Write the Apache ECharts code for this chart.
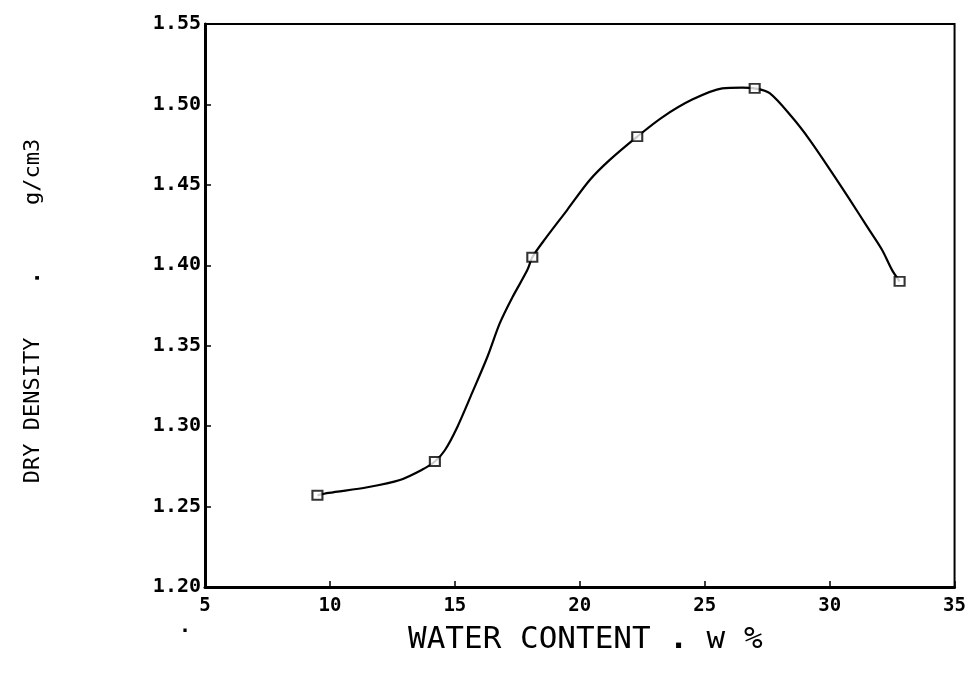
<!DOCTYPE html>
<html>
<head>
<meta charset="utf-8">
<script src="https://cdn.jsdelivr.net/npm/echarts@6/dist/echarts.min.js"></script>
<style>html,body{margin:0;padding:0;background:#fff;}#c{width:969px;height:676px;}</style>
</head>
<body>
<div id="c"></div>
<script>
// Measured points (water content %, dry density g/cm3)
var waterContent = [9.5, 14.2, 18.1, 22.3, 27.0, 32.8];
var dryDensity   = [1.257, 1.278, 1.405, 1.480, 1.510, 1.390];
// Fitted curve
var curveX = [9.5, 9.95, 11.5, 12.8, 13.7, 14.2, 14.6, 15.1, 15.7, 16.3, 16.8, 17.3, 17.9, 18.1, 18.5, 19.5, 20.4, 21.2, 22.3, 23.3, 24.5, 25.7, 26.5, 27.0, 27.6, 28.5, 29.2, 30.1, 30.8, 31.5, 32.1, 32.5, 32.8];
var curveY = [1.257, 1.2585, 1.262, 1.2665, 1.273, 1.278, 1.285, 1.2995, 1.321, 1.343, 1.364, 1.380, 1.397, 1.405, 1.414, 1.4345, 1.453, 1.4655, 1.480, 1.492, 1.503, 1.510, 1.5105, 1.510, 1.507, 1.492, 1.478, 1.4575, 1.441, 1.424, 1.4095, 1.397, 1.390];
var xTicks = [5, 35, 5];        // min, max, step
var yTicks = [1.20, 1.55, 0.05];  // min, max, step
var xTitle = ['WATER CONTENT ', '.', ' w %'];
var yTitle = ['DRY DENSITY    ', '.', '     g/cm3'];

var mono = 'DejaVu Sans Mono';
var chart = echarts.init(document.getElementById('c'), null, {renderer: 'canvas'});
var curve = curveX.map(function (x, i) { return [x, curveY[i]]; });
var pts = waterContent.map(function (x, i) { return [x, dryDensity[i]]; });

chart.setOption({
  animation: false,
  backgroundColor: '#fff',
  grid: {left: 205, right: 13, top: 24, bottom: 89, show: true, borderColor: '#000', borderWidth: 2, backgroundColor: 'transparent'},
  xAxis: {
    type: 'value', min: xTicks[0], max: xTicks[1], interval: xTicks[2],
    axisLine: {show: true, lineStyle: {color: '#000', width: 3}},
    axisTick: {show: true, inside: true, length: 6, lineStyle: {color: '#000', width: 1.5}},
    axisLabel: {color: '#000', fontFamily: mono, fontSize: 19, fontWeight: 'bold', margin: 10},
    splitLine: {show: false}
  },
  yAxis: {
    type: 'value', min: yTicks[0], max: yTicks[1], interval: yTicks[2],
    axisLine: {show: true, lineStyle: {color: '#000', width: 3}},
    axisTick: {show: true, inside: true, length: 6, lineStyle: {color: '#000', width: 1.5}},
    axisLabel: {color: '#000', fontFamily: mono, fontSize: 20, fontWeight: 'bold', margin: 4,
      formatter: function (v) { return v.toFixed(2); }},
    splitLine: {show: false}
  },
  graphic: [
    {type: 'text', left: 408, top: 624, style: {
      text: '{a|' + xTitle[0] + '}{d|' + xTitle[1] + '}{a|' + xTitle[2] + '}',
      rich: {a: {fill: '#000', fontFamily: mono, fontSize: 31}, d: {fill: '#000', fontFamily: mono, fontSize: 31, fontWeight: 'bold'}}}},
    {type: 'text', x: 33, y: 311, rotation: Math.PI / 2,
      style: {text: '{a|' + yTitle[0] + '}{d|' + yTitle[1] + '}{a|' + yTitle[2] + '}',
        rich: {a: {fill: '#000', fontFamily: mono, fontSize: 22}, d: {fill: '#000', fontFamily: mono, fontSize: 22, fontWeight: 'bold'}},
        textAlign: 'center', textVerticalAlign: 'middle'}},
    {type: 'text', x: 185, y: 637, style: {text: '.', fill: '#000', font: 'bold 20px "DejaVu Sans Mono"', textAlign: 'center', textVerticalAlign: 'bottom'}}
  ],
  series: [
    {type: 'line', data: curve, smooth: 0.3, showSymbol: false, symbol: 'none',
      lineStyle: {color: '#000', width: 2.2}, z: 2},
    {type: 'scatter', data: pts, symbol: 'rect', symbolSize: [10, 9],
      itemStyle: {color: '#fff', borderColor: '#000', borderWidth: 2}, z: 3}
  ]
});
</script>
</body>
</html>
